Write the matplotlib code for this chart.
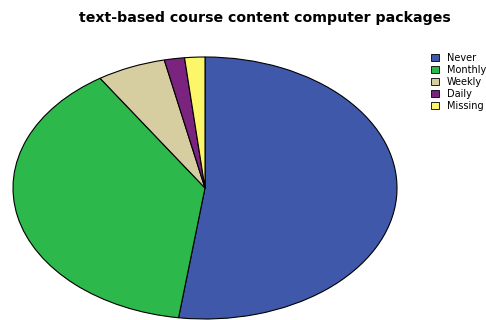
import matplotlib
matplotlib.use("Agg")
import matplotlib.pyplot as plt
from matplotlib.patches import Patch

plt.rcParams['font.family'] = ['DejaVu Sans']

title = "text-based course content computer packages"
categories = ["Never", "Monthly", "Weekly", "Daily", "Missing"]
percentages = [52.2, 38.6, 5.8, 1.7, 1.7]
colors = ["#3F58AA", "#2DB84B", "#D6CEA0", "#7A2480", "#FCF66A"]

fig = plt.figure(figsize=(4.86, 3.2), dpi=100)
fig.patch.set_facecolor("white")

# elliptical pie: axes with free aspect so the circle stretches
ax = fig.add_axes([13 / 486, 1 - 319 / 320, 384 / 486, 262 / 320])
ax.pie(percentages, colors=colors, startangle=90, counterclock=False,
       radius=1.0, wedgeprops=dict(edgecolor="black", linewidth=0.8))
ax.set_aspect("auto")
ax.set_xlim(-1.0, 1.0)
ax.set_ylim(-1.0, 1.0)
ax.axis("off")

fig.text(265 / 486, 1 - 18 / 320, title, ha="center", va="center",
         fontsize=10.2, fontweight="bold")

handles = [Patch(facecolor=c, edgecolor="black", linewidth=0.6, label=l)
           for c, l in zip(colors, categories)]
fig.legend(handles=handles, loc="upper left",
           bbox_to_anchor=(431 / 486, 1 - 53 / 320), frameon=False,
           fontsize=7, handlelength=0.82, handleheight=0.67,
           handletextpad=0.8, labelspacing=0.2, borderpad=0,
           borderaxespad=0)

fig.savefig("out.png", dpi=100)
